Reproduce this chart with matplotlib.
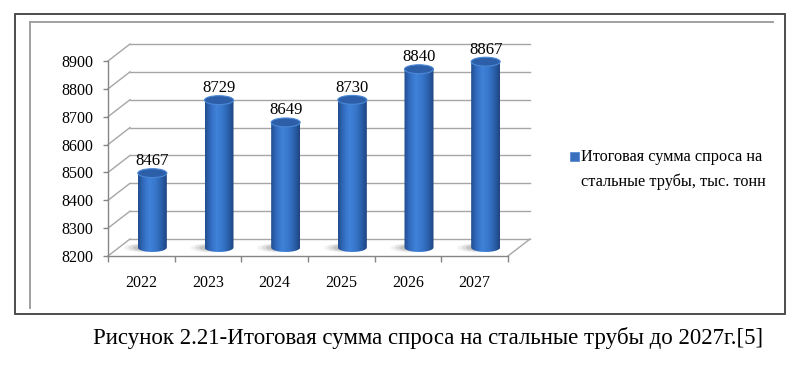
"""Итоговая сумма спроса на стальные трубы — 3D-style cylinder bar chart."""

import numpy as np
import matplotlib
matplotlib.use("Agg")
import matplotlib.pyplot as plt
from matplotlib.patches import Ellipse, PathPatch, Rectangle
from matplotlib.path import Path
from matplotlib.lines import Line2D

plt.rcParams["font.family"] = ["Liberation Serif", "DejaVu Serif"]

years = ["2022", "2023", "2024", "2025", "2026", "2027"]
demand = [8467, 8729, 8649, 8730, 8840, 8867]
y_ticks = [8200, 8300, 8400, 8500, 8600, 8700, 8800, 8900]
legend_lines = ["Итоговая сумма спроса на", "стальные трубы, тыс. тонн"]
caption = "Рисунок 2.21-Итоговая сумма спроса на стальные трубы до 2027г.[5]"

Y_MIN, Y_MAX = 8200, 8900
DX, DY = 0.33, 61          # depth offset of the back wall, in data units
BAR_W = 0.435               # cylinder diameter (category units)
CAP_H = 32                  # ellipse height of cylinder caps (value units)
GRID_C = "#a6a6a6"
AXIS_C = "#868686"

fig = plt.figure(figsize=(8.0, 3.76), dpi=100)

# ── frames ────────────────────────────────────────────────────────────────
fig.patches.append(Rectangle((15 / 800, 62 / 376), 770 / 800, 300 / 376,
                             transform=fig.transFigure, fill=False,
                             edgecolor="#4d4d4d", linewidth=1.4))
fig.add_artist(Line2D([30 / 800, 773 / 800], [354 / 376, 354 / 376],
                      transform=fig.transFigure, color="#a0a0a0", lw=1.4))
fig.add_artist(Line2D([30 / 800, 30 / 800], [354 / 376, 68 / 376],
                      transform=fig.transFigure, color="#a0a0a0", lw=1.4))

ax = fig.add_axes([108 / 800, 120 / 376, 400 / 800, 195 / 376])
n = len(years)

# ── walls / grid ─────────────────────────────────────────────────────────
for v in y_ticks:
    ax.plot([0, DX], [v, v + DY], color=GRID_C, lw=1.0, clip_on=False, zorder=1)
    ax.plot([DX, n + DX], [v + DY, v + DY], color=GRID_C, lw=1.0, clip_on=False, zorder=1)
ax.plot([n, n + DX], [Y_MIN, Y_MIN + DY], color=GRID_C, lw=1.0, clip_on=False, zorder=1)

# ── cylinders ────────────────────────────────────────────────────────────
grad_cols = np.array([
    [0.13, 0.30, 0.56],
    [0.20, 0.43, 0.76],
    [0.25, 0.51, 0.85],
    [0.22, 0.47, 0.80],
    [0.17, 0.38, 0.68],
    [0.12, 0.27, 0.50],
])
xs = np.linspace(0, 1, 200)
grad = np.stack([np.interp(xs, np.linspace(0, 1, len(grad_cols)), grad_cols[:, k])
                 for k in range(3)], axis=-1)[None, :, :]

base = Y_MIN + DY / 2
t = np.linspace(np.pi, 2 * np.pi, 40)
for i, v in enumerate(demand):
    cx = i + 0.5 + DX / 2
    top = v + DY / 2
    x0, x1 = cx - BAR_W / 2, cx + BAR_W / 2

    # soft shadow on the floor, thrown to the left
    for k, a in enumerate([0.08, 0.12, 0.18]):
        ax.add_patch(Ellipse((cx - 0.14 + 0.03 * k, base - 1), BAR_W * (1.3 - 0.15 * k),
                             CAP_H * (1.0 - 0.15 * k), facecolor="#555555",
                             edgecolor="none", alpha=a, zorder=2, clip_on=False))

    verts = [(x0, top), (x0, base)]
    verts += list(zip(cx + BAR_W / 2 * np.cos(t), base + CAP_H / 2 * np.sin(t)))
    verts += [(x1, base), (x1, top), (x0, top)]
    body = PathPatch(Path(verts), facecolor="none", edgecolor="none")
    ax.add_patch(body)
    im = ax.imshow(grad, extent=[x0, x1, base - CAP_H, top], aspect="auto",
                   zorder=3, clip_on=True)
    im.set_clip_path(body)

    ax.add_patch(Ellipse((cx, top), BAR_W, CAP_H, facecolor="#2c5fa8",
                         edgecolor="#4c88d6", lw=0.8, zorder=4, clip_on=False))
    ax.text(cx, top + 43, str(v), ha="center", va="center", fontsize=12,
            zorder=5, clip_on=False)

# ── axes ─────────────────────────────────────────────────────────────────
ax.set_xlim(0, n)
ax.set_ylim(Y_MIN, Y_MAX)
for s in ("top", "right"):
    ax.spines[s].set_visible(False)
for s in ("left", "bottom"):
    ax.spines[s].set_color(AXIS_C)
    ax.spines[s].set_linewidth(1.0)
ax.set_facecolor("none")
ax.set_yticks(y_ticks)
ax.set_yticklabels([str(v) for v in y_ticks], fontsize=11.5)
ax.tick_params(axis="y", length=3.5, width=1.0, color=AXIS_C, pad=7)
ax.set_xticks(np.arange(n) + 0.5)
ax.set_xticklabels(years, fontsize=11.5)
ax.set_xticks(np.arange(n + 1), minor=True)
ax.tick_params(axis="x", which="major", length=0, pad=14)
ax.tick_params(axis="x", which="minor", length=4.5, width=1.0, color=AXIS_C)

# ── legend ───────────────────────────────────────────────────────────────
fig.patches.append(Rectangle((570 / 800, (376 - 161) / 376), 9 / 800, 9 / 376,
                             transform=fig.transFigure, facecolor="#3a6fbd",
                             edgecolor="#5a8ad0", lw=0.6))
fig.text(581 / 800, (376 - 157) / 376, legend_lines[0], fontsize=11.7,
         ha="left", va="center")
fig.text(581 / 800, (376 - 182) / 376, legend_lines[1], fontsize=11.7,
         ha="left", va="center")

fig.text(93 / 800, 38 / 376, caption, fontsize=16.5, ha="left", va="center")

fig.savefig("out.png", dpi=100)
